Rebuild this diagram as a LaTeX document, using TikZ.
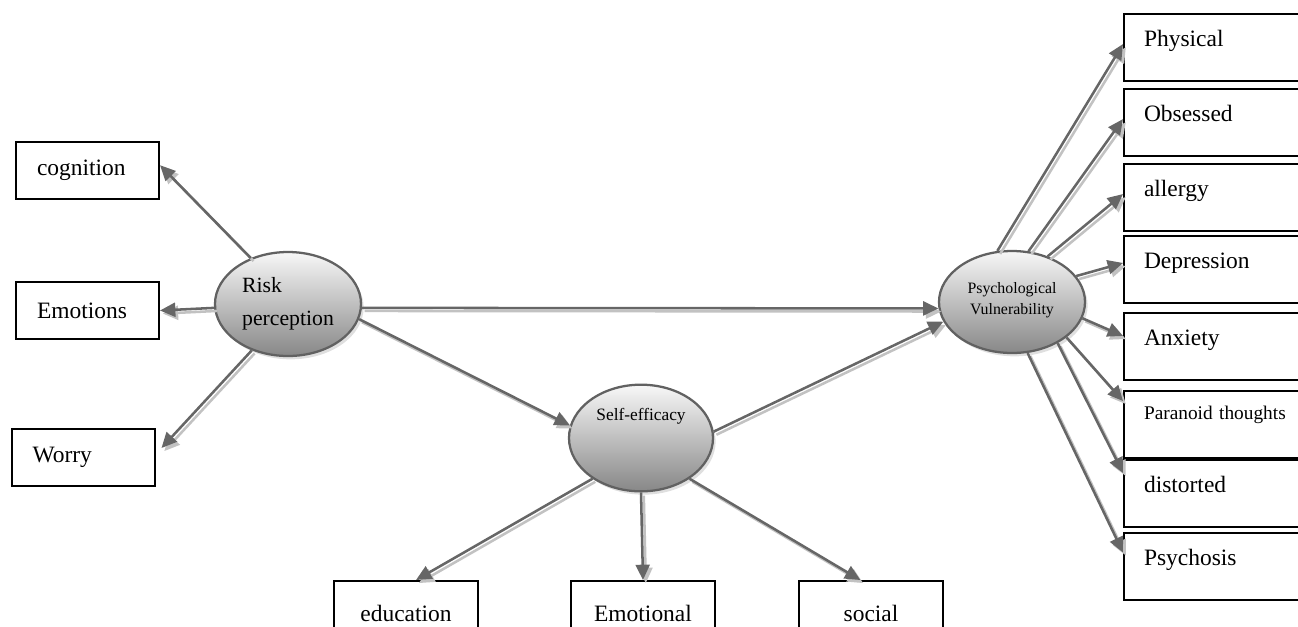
\documentclass[tikz,border=0pt]{standalone}
\usepackage{fontspec}
\setmainfont{Liberation Serif}
\usetikzlibrary{arrows.meta,shapes.geometric,shadows}
\begin{document}
\begin{tikzpicture}[>={Triangle[length=11.5pt,width=10.5pt]},x=0.75pt,y=-0.75pt,
    box/.style={draw,line width=1.5pt,font=\fontsize{17.6}{21}\selectfont},
    lbox/.style={box,minimum height=42.75pt,text width=75.75pt,inner xsep=15.75pt,align=left},
    rbox/.style={box,anchor=north west,text width=112.5pt,inner xsep=15pt,inner ysep=0pt,align=left,text height=24pt,text depth=26.25pt},
    bbox/.style={box,anchor=north,minimum width=108pt,inner ysep=0pt,text height=30pt,text depth=20.25pt},
    latent/.style={ellipse,draw=black!62,line width=1.7pt,inner sep=0pt,top color=black!3,bottom color=black!47,
        drop shadow={shadow xshift=2pt,shadow yshift=-2.5pt,opacity=.25}},
    arr/.style={->,line width=1.9pt,draw=black!60,
        preaction={draw=black!24,line width=1.9pt,transform canvas={shift={(2.1pt,-2.3pt)}}}}]
    \useasboundingbox (0,0) rectangle (1298,626);
    \node[latent,minimum width=109.5pt,minimum height=78pt,align=left,font=\fontsize{16.3}{24.75}\selectfont] (risk) at (288,304) {Risk\\perception};
    \node[latent,minimum width=108pt,minimum height=80pt,text height=10pt,text depth=37pt,font=\fontsize{13}{15}\selectfont] (self) at (641,438) {Self-efficacy};
    \node[latent,minimum width=109.5pt,minimum height=76.5pt,align=center,text depth=6pt,font=\fontsize{11.9}{15.75}\selectfont] (psy) at (1012,302) {Psychological\\Vulnerability};
    \node[lbox] (cog) at (87.5,170.5) {cognition};
    \node[lbox] (emo) at (87.5,310.5) {Emotions};
    \node[lbox] (wor) at (83,457) {Worry};
    \node[bbox] (edu) at (406,580) {education};
    \node[bbox] (emol) at (643,580) {Emotional};
    \node[bbox] (soc) at (871,580) {social};
    \node[rbox] (phy) at (1123,13) {Physical};
    \node[rbox] (obs) at (1123,88) {Obsessed};
    \node[rbox] (alg) at (1123,163) {allergy};
    \node[rbox] (dep) at (1123,235) {Depression};
    \node[rbox] (anx) at (1123,312) {Anxiety};
    \node[rbox,text height=21pt,text depth=29.25pt,font=\fontsize{14.5}{17}\selectfont] (par) at (1123,390) {Paranoid thoughts};
    \node[rbox] (dis) at (1123,459) {distorted};
    \node[rbox] (pso) at (1123,532) {Psychosis};
    \draw[arr] (risk.129) -- ([yshift=4pt]cog.east);
    \draw[arr] (risk.183) -- (emo.east);
    \draw[arr] (risk.232) -- ([xshift=4.5pt,yshift=6.75pt]wor.east);
    \draw[arr] (risk.-3) -- (psy.185);
    \draw[arr] (risk.-12) -- (self.170);
    \draw[arr] (self.5) -- (psy.196);
    \draw[arr] (self.220) -- ([xshift=7.5pt]edu.north);
    \draw[arr] (self.270) -- (emol.north);
    \draw[arr] (self.320) -- ([xshift=-8pt]soc.north);
    \draw[arr] (psy.106) -- ([yshift=2.6pt]phy.west);
    \draw[arr] (psy.72) -- ([yshift=2.6pt]obs.west);
    \draw[arr] (psy.52) -- ([yshift=2.6pt]alg.west);
    \draw[arr] (psy.22) -- ([yshift=4.9pt]dep.west);
    \draw[arr] (psy.-13) -- ([yshift=7.9pt]anx.west);
    \draw[arr] (psy.-33) -- ([yshift=17.6pt]par.west);
    \draw[arr] (psy.-42) -- ([yshift=15.4pt]dis.west);
    \draw[arr] (psy.-73) -- ([yshift=10.5pt]pso.west);
\end{tikzpicture}
\end{document}
